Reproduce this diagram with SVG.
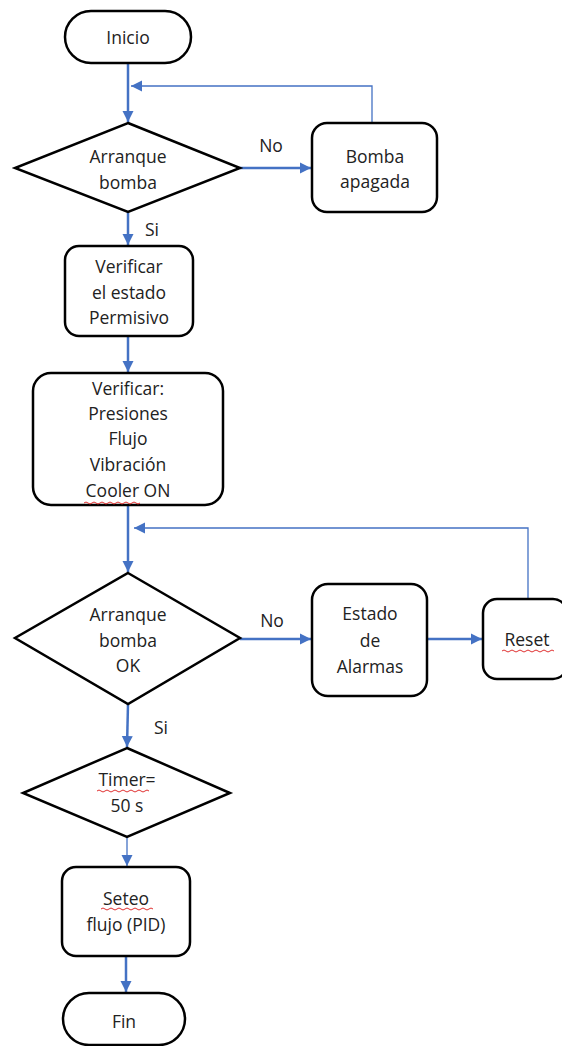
<svg xmlns="http://www.w3.org/2000/svg" width="562" height="1046" viewBox="0 0 562 1046">
<style>
.s{fill:#fff;stroke:#000;stroke-width:2.5}
.t{font-family:"Open Sans","Liberation Sans",sans-serif;font-size:17.5px;fill:#222;text-anchor:middle}
.c{fill:none;stroke:#4472C4;stroke-width:2.5}
.f{fill:none;stroke:#4472C4;stroke-width:1.3}
.w{fill:none;stroke:#e03030;stroke-width:1}
</style>
<defs>
<marker id="a" markerUnits="userSpaceOnUse" markerWidth="12" markerHeight="12" viewBox="0 0 12 12" refX="11" refY="6" orient="auto">
<path d="M0,0.5 L11,6 L0,11.5 Z" fill="#4472C4"/>
</marker>
</defs>
<g id="connectors">
<line class="c" x1="128" y1="63" x2="128" y2="122" marker-end="url(#a)"/>
<polyline class="f" points="372,123 372,86 131,86" marker-end="url(#a)"/>
<line class="c" x1="240" y1="168" x2="311" y2="168" marker-end="url(#a)"/>
<line class="c" x1="128" y1="212" x2="128" y2="245" marker-end="url(#a)"/>
<line class="c" x1="128" y1="336" x2="128" y2="372" marker-end="url(#a)"/>
<line class="c" x1="128" y1="505" x2="128" y2="572" marker-end="url(#a)"/>
<polyline class="f" points="528,599 528,528 134,528" marker-end="url(#a)"/>
<line class="c" x1="240" y1="639" x2="311" y2="639" marker-end="url(#a)"/>
<line class="c" x1="427" y1="639" x2="482" y2="639" marker-end="url(#a)"/>
<line class="c" x1="128" y1="704" x2="127" y2="747" marker-end="url(#a)"/>
<line class="f" x1="127" y1="837" x2="127" y2="866" marker-end="url(#a)"/>
<line class="c" x1="126" y1="956" x2="126" y2="992" marker-end="url(#a)"/>
<text class="t" x="271" y="152">No</text>
<text class="t" x="152" y="236">Si</text>
<text class="t" x="272" y="627">No</text>
<text class="t" x="161" y="734">Si</text>
</g>
<g id="inicio">
<rect class="s" x="65" y="11" width="126" height="52" rx="26"/>
<text class="t" x="128" y="44">Inicio</text>
</g>
<g id="arranque1">
<polygon class="s" points="128,123 240,168 128,212 15,168"/>
<text class="t" x="128" y="163">Arranque</text>
<text class="t" x="128" y="189">bomba</text>
</g>
<g id="bomba-apagada">
<rect class="s" x="312" y="123" width="125" height="89" rx="15"/>
<text class="t" x="375" y="163">Bomba</text>
<text class="t" x="375" y="188">apagada</text>
</g>
<g id="verificar1">
<rect class="s" x="65" y="246" width="128" height="90" rx="14"/>
<text class="t" x="129" y="273">Verificar</text>
<text class="t" x="129" y="299">el estado</text>
<text class="t" x="129" y="324">Permisivo</text>
</g>
<g id="verificar2">
<rect class="s" x="33" y="373" width="190" height="132" rx="18"/>
<text class="t" x="128" y="395">Verificar:</text>
<text class="t" x="128" y="420">Presiones</text>
<text class="t" x="128" y="445">Flujo</text>
<text class="t" x="128" y="471">Vibración</text>
<text class="t" x="128" y="497">Cooler ON</text>
<path class="w" d="M84,503 q2,-2 4,0 t4,0 t4,0 t4,0 t4,0 t4,0 t4,0 t4,0 t4,0 t4,0 t4,0 t4,0 t4,0 t4,0"/>
</g>
<g id="arranque2">
<polygon class="s" points="128,573 240,638 128,704 15,638"/>
<text class="t" x="128" y="621">Arranque</text>
<text class="t" x="128" y="647">bomba</text>
<text class="t" x="128" y="672">OK</text>
</g>
<g id="estado-alarmas">
<rect class="s" x="312" y="584" width="115" height="112" rx="16"/>
<text class="t" x="370" y="620">Estado</text>
<text class="t" x="370" y="647">de</text>
<text class="t" x="370" y="673">Alarmas</text>
</g>
<g id="reset">
<rect class="s" x="483" y="599" width="84" height="80" rx="14"/>
<text class="t" x="527" y="646">Reset</text>
<path class="w" d="M502,651 q2,-2 4,0 t4,0 t4,0 t4,0 t4,0 t4,0 t4,0 t4,0 t4,0 t4,0 t4,0 t4,0 t4,0"/>
</g>
<g id="timer">
<polygon class="s" points="127,748 230,793 127,837 23,793"/>
<text class="t" x="127" y="786">Timer=</text>
<text class="t" x="127" y="812">50 s</text>
<path class="w" d="M97,791 q2,-2 4,0 t4,0 t4,0 t4,0 t4,0 t4,0 t4,0 t4,0 t4,0 t4,0 t4,0 t4,0 t4,0"/>
</g>
<g id="seteo">
<rect class="s" x="62" y="867" width="128" height="89" rx="14"/>
<text class="t" x="126" y="905">Seteo</text>
<text class="t" x="126" y="931">flujo (PID)</text>
<path class="w" d="M101,909 q2,-2 4,0 t4,0 t4,0 t4,0 t4,0 t4,0 t4,0 t4,0 t4,0 t4,0 t4,0 t4,0 t4,0"/>
</g>
<g id="fin">
<rect class="s" x="63" y="993" width="122" height="52" rx="26"/>
<text class="t" x="124" y="1028">Fin</text>
</g>
</svg>
